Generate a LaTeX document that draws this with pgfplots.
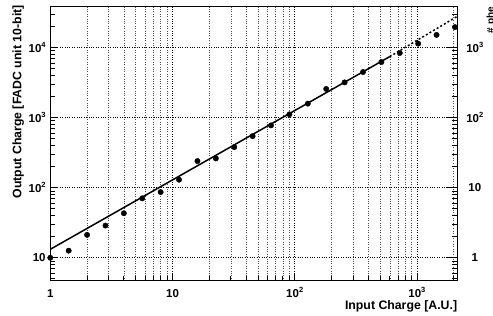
\documentclass[border=0pt]{standalone}
\usepackage{fontspec}
\setmainfont{Liberation Sans}
\usepackage{pgfplots}
\pgfplotsset{compat=1.18}
\newcommand{\tl}{\bfseries\fontsize{11.5}{12}\selectfont}
\newcommand{\supx}[1]{\raisebox{0.45em}{\fontsize{7.5}{8}\selectfont\bfseries #1}}
\begin{document}
\begin{tikzpicture}
\begin{axis}[
  name=main,
  scale only axis, width=407pt, height=274pt,
  at={(0,0)}, anchor=south west,
  xmode=log, ymode=log,
  xmin=1, xmax=2140, ymin=4.7, ymax=38400,
  clip=false,
  xtick={1,10,100,1000},
  xticklabels={1,10,10\supx{2},10\supx{3}},
  ytick={10,100,1000,10000},
  yticklabels={10,10\supx{2},10\supx{3},10\supx{4}},
  minor xtick={2,3,4,5,6,7,8,9,20,30,40,50,60,70,80,90,200,300,400,500,600,700,800,900},
  minor ytick={5,6,7,8,9,20,30,40,50,60,70,80,90,200,300,400,500,600,700,800,900,2000,3000,4000,5000,6000,7000,8000,9000,20000,30000},
  xtick pos=bottom, ytick pos=left,
  tick align=inside,
  major tick length=7pt, minor tick length=4.5pt,
  tick style={black, line width=0.8pt},
  xmajorgrids, xminorgrids, ymajorgrids,
  major grid style={dotted, black, line width=0.6pt},
  minor grid style={dotted, black!70, line width=0.6pt},
  axis line style={line width=1.2pt},
  xticklabel style={font=\tl, anchor=base, inner sep=0pt, yshift=-16.8pt},
  yticklabel style={font=\tl, anchor=east, inner sep=0pt, xshift=-4.5pt},
]
\draw[dotted, black!70, line width=0.6pt] (rel axis cs:0.99118,0) -- (rel axis cs:0.99118,1);
\draw[black, line width=0.8pt] (rel axis cs:0.99118,0) -- (rel axis cs:0.99118,0.0164);
\addplot[only marks, mark=*, mark size=2.7pt, black] coordinates {
  (1,10) (1.414,12.6) (2,21.2) (2.828,28.8) (4,43.2) (5.657,70.5)
  (8,86.6) (11.31,130) (16,240) (22.63,262) (32,380) (45.25,545)
  (64,776) (90.51,1114) (128,1585) (181.0,2570) (256,3190) (362.0,4480)
  (512,6220) (724.1,8380) (1024,11400) (1448,15200) (2048,19600)
};
\addplot[black, line width=1.5pt] coordinates {(1,13.2) (600,7450)};
\addplot[black, line width=1.5pt, dash pattern=on 2pt off 2.2pt] coordinates {(600,7450) (2140,28000)};
\end{axis}
\begin{axis}[
  scale only axis, width=407pt, height=274pt,
  at={(0,0)}, anchor=south west,
  xmode=log, ymode=log,
  xmin=1, xmax=2140, ymin=0.47, ymax=3840,
  hide x axis, xtick=\empty, minor xtick={}, xticklabels={},
  axis y line*=right,
  ytick={1,10,100,1000},
  yticklabels={1,10,10\supx{2},10\supx{3}},
  minor ytick={0.5,0.6,0.7,0.8,0.9,2,3,4,5,6,7,8,9,20,30,40,50,60,70,80,90,200,300,400,500,600,700,800,900,2000,3000},
  tick align=inside,
  major tick length=11pt, minor tick length=5.5pt,
  tick style={black, line width=0.8pt},
  axis line style={line width=1.2pt},
  yticklabel style={font=\tl, anchor=center, inner sep=0pt, xshift=17.5pt},
]
\end{axis}
\node[rotate=90, anchor=base east, inner sep=0pt, font=\bfseries\fontsize{12.3}{13}\selectfont] at (-28.8pt,275.7pt) {Output Charge [FADC unit 10-bit]};
\node[anchor=base east, inner sep=0pt, font=\bfseries\fontsize{12.3}{13}\selectfont] at (407pt,-29.3pt) {Input Charge [A.U.]};
\node[rotate=90, anchor=base east, inner sep=0pt, font=\bfseries\fontsize{10}{11}\selectfont] at (443.5pt,273.7pt) {\# phe};
\pgfresetboundingbox
\path[use as bounding box] (-50.3pt,-35.3pt) rectangle (442.7pt,280.7pt);
\end{tikzpicture}
\end{document}
